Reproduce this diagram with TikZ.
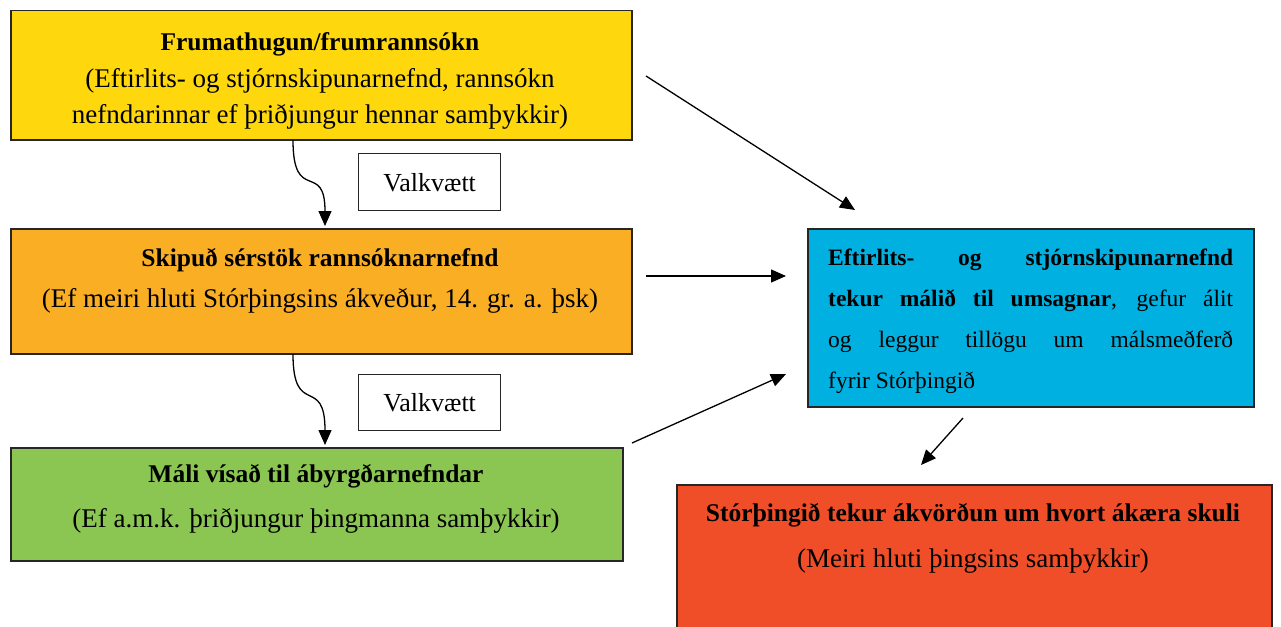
\documentclass[tikz,border=0pt]{standalone}
\usepackage{fontspec}
\setmainfont{Liberation Serif}
\usetikzlibrary{arrows.meta,calc}
\definecolor{cyellow}{HTML}{FED80C}
\definecolor{corange}{HTML}{F9AE24}
\definecolor{cgreen}{HTML}{8BC652}
\definecolor{cblue}{HTML}{00B0E0}
\definecolor{cred}{HTML}{F04E28}
\begin{document}
\begin{tikzpicture}[x=1pt,y=-1pt,
  box/.style={draw=black!85,line width=1.5pt,inner sep=0pt,anchor=north west},
  hd/.style={anchor=base,font=\fontsize{25.5}{36}\selectfont\bfseries,inner sep=0pt},
  sub/.style={anchor=base,align=center,font=\fontsize{27}{36}\selectfont,inner sep=0pt},
  arr/.style={line width=1.3pt,-{Triangle[length=15pt,width=13pt]}},
  optbox/.style={draw=black!85,line width=1.4pt,anchor=north west,minimum width=142pt,font=\fontsize{26}{30}\selectfont,inner sep=0pt}]
\useasboundingbox (0,0) rectangle (1281,626);
\clip (0,0) rectangle (1281,626);
% boxes
\node[box,fill=cyellow,minimum width=621pt,minimum height=129pt] (yellow) at (10,10) {};
\node[box,fill=corange,minimum width=621pt,minimum height=125pt] (orange) at (10,228) {};
\node[box,fill=cgreen,minimum width=612pt,minimum height=113pt] (green) at (10,447) {};
\node[box,fill=cblue,minimum width=446pt,minimum height=178pt] (blue) at (807,228) {};
\node[box,fill=cred,minimum width=595pt,minimum height=170pt] (red) at (676,484) {};
\node[optbox,minimum height=57pt] (v1) at (358,153) {Valkvætt};
\node[optbox,minimum height=56pt] (v2) at (358,374) {Valkvætt};
% texts
\node[hd] (yh) at (320,51) {Frumathugun/frumrannsókn};
\node[sub] (ys) at (320,123) {(Eftirlits- og stjórnskipunarnefnd, rannsókn\\nefndarinnar ef þriðjungur hennar samþykkir)};
\node[hd] (oh) at (320,266) {Skipuð sérstök rannsóknarnefnd};
\node[sub] (os) at (320,307) {(Ef meiri hluti Stórþingsins ákveður, 14. gr. a. þsk)};
\node[hd] (gh) at (316,482) {Máli vísað til ábyrgðarnefndar};
\node[sub] (gs) at (316,527) {(Ef a.m.k. þriðjungur þingmanna samþykkir)};
\node[hd] (rh) at (973,521) {Stórþingið tekur ákvörðun um hvort ákæra skuli};
\node[sub] (rs) at (973,567) {(Meiri hluti þingsins samþykkir)};
\node[anchor=north west,inner sep=0pt,text width=405pt,align=justify,font=\fontsize{23.5}{41}\selectfont] (bt) at (828,249)
  {\textbf{Eftirlits- og stjórnskipunarnefnd}\linebreak \textbf{tekur málið til umsagnar}, gefur álit\linebreak og leggur tillögu um málsmeðferð\linebreak fyrir Stórþingið};
% connector ends
\coordinate (a1s) at (293,140);
\coordinate (a1e) at (325,226);
\coordinate (a2s) at (293,354);
\coordinate (a2e) at (325,445);
\coordinate (a3s) at (646,76);
\coordinate (a3e) at (855,210);
\coordinate (a4s) at (646,276);
\coordinate (a4e) at (786,276);
\coordinate (a5s) at (632,443);
\coordinate (a5e) at (786,374);
\coordinate (a6s) at (963,418);
\coordinate (a6e) at (921,465);
% connectors
\draw[arr] (a1s) .. controls (293,205) and (325,160) .. (a1e);
\draw[arr] (a2s) .. controls (293,419) and (325,374) .. (a2e);
\draw[arr] (a3s) -- (a3e);
\draw[arr] (a4s) -- (a4e);
\draw[arr] (a5s) -- (a5e);
\draw[arr] (a6s) -- (a6e);
\end{tikzpicture}
\end{document}
